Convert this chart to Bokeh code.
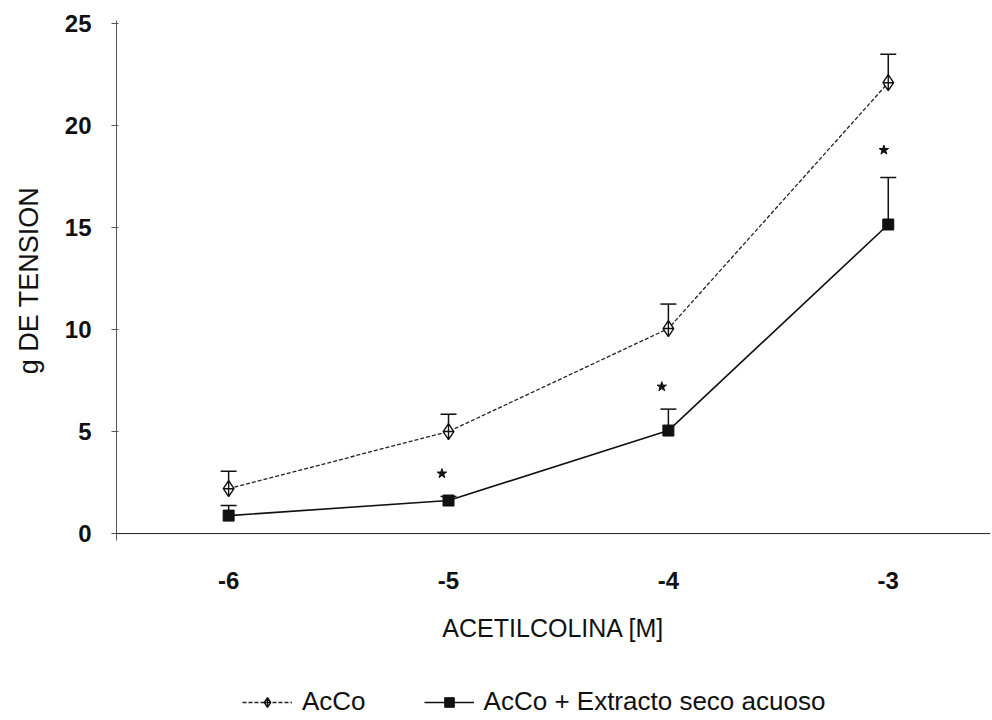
from bokeh.plotting import figure
from bokeh.models import (ColumnDataSource, Whisker, TeeHead, Span, Legend, LegendItem,
                          FixedTicker, Range1d)
from bokeh.layouts import column
from bokeh.embed import file_html
from bokeh.resources import INLINE

# data
log_conc = [-6, -5, -4, -3]
acco_mean = [2.2, 5.0, 10.05, 22.1]
acco_err = [0.85, 0.85, 1.2, 1.4]
ext_mean = [0.88, 1.62, 5.05, 15.15]
ext_err = [0.5, 0.2, 1.05, 2.3]
star_x = [-5.03, -4.03, -3.02]
star_y = [2.94, 7.2, 18.8]
x_ticks = [-6, -5, -4, -3]
x_tick_labels = ["-6", "-5", "-4", "-3"]
y_ticks = [0, 5, 10, 15, 20, 25]
series_names = ["AcCo", "AcCo + Extracto seco acuoso"]

FONT = "Liberation Sans"
MAIN_H = 665

p = figure(width=992, height=MAIN_H, output_backend="svg", toolbar_location=None,
           x_range=Range1d(-6.51, -2.535), y_range=Range1d(-0.34, 25.15),
           min_border_left=116, min_border_right=2, min_border_top=20,
           min_border_bottom=MAIN_H - 540)
p.outline_line_color = None
p.grid.visible = False

# axes
xa = p.xaxis[0]
xa.ticker = FixedTicker(ticks=x_ticks)
xa.major_label_overrides = {t: s for t, s in zip(x_ticks, x_tick_labels)}
xa.axis_line_color = None
xa.major_tick_line_color = None
xa.minor_tick_line_color = None
xa.major_tick_out = 0
xa.major_label_standoff = 31
xa.major_label_text_font = FONT
xa.major_label_text_font_size = "24px"
xa.major_label_text_font_style = "bold"
xa.major_label_text_color = "#111111"
xa.axis_label = "ACETILCOLINA [M]"
xa.axis_label_text_font = FONT
xa.axis_label_text_font_size = "25px"
xa.axis_label_text_font_style = "normal"
xa.axis_label_text_color = "#111111"
xa.axis_label_standoff = 22

ya = p.yaxis[0]
ya.ticker = FixedTicker(ticks=y_ticks)
ya.axis_line_color = "#555555"
ya.axis_line_width = 1
ya.major_tick_line_color = "#555555"
ya.major_tick_out = 5
ya.major_tick_in = 2
ya.minor_tick_line_color = None
ya.major_label_standoff = 20
ya.major_label_text_font = FONT
ya.major_label_text_font_size = "24px"
ya.major_label_text_font_style = "bold"
ya.major_label_text_color = "#111111"
ya.axis_label = "g DE TENSION"
ya.axis_label_text_font = FONT
ya.axis_label_text_font_size = "27px"
ya.axis_label_text_font_style = "normal"
ya.axis_label_text_color = "#111111"
ya.axis_label_standoff = 18

# zero line
p.add_layout(Span(location=0, dimension="width", line_color="#222222", line_width=1))

# error bars
src_a = ColumnDataSource(dict(x=log_conc, y=acco_mean,
                              up=[m + e for m, e in zip(acco_mean, acco_err)]))
src_e = ColumnDataSource(dict(x=log_conc, y=ext_mean,
                              up=[m + e for m, e in zip(ext_mean, ext_err)]))
for src in (src_a, src_e):
    w = Whisker(source=src, base="x", lower="y", upper="up",
                upper_head=TeeHead(size=16, line_color="#111111", line_width=1.5),
                lower_head=None, line_color="#111111", line_width=1.5)
    p.add_layout(w)

A_LINE = dict(line_color="#222222", line_width=1.3, line_dash="4 2")
A_MARK = dict(marker="diamond_cross", size=16, line_color="#111111", fill_color="white", line_width=1.4)
E_LINE = dict(line_color="#111111", line_width=1.6)
E_MARK = dict(marker="square", size=11, line_color="#111111", fill_color="#111111")

# series
p.line("x", "y", source=src_a, **A_LINE)
p.scatter("x", "y", source=src_a, **A_MARK)
p.line("x", "y", source=src_e, **E_LINE)
p.scatter("x", "y", source=src_e, **E_MARK)

# significance stars
p.scatter(star_x, star_y, marker="star", size=10, fill_color="#111111", line_color="#111111")

# legend strip below the chart (same series, drawn out of this strip's view)
lf = figure(width=992, height=720 - MAIN_H, output_backend="svg", toolbar_location=None,
            x_axis_type=None, y_axis_type=None, x_range=Range1d(100, 101), y_range=Range1d(100, 101),
            min_border=0)
lf.outline_line_color = None
lf.grid.visible = False
la = lf.line("x", "y", source=src_a, **A_LINE)
sa = lf.scatter("x", "y", source=src_a, **A_MARK)
le = lf.line("x", "y", source=src_e, **E_LINE)
se = lf.scatter("x", "y", source=src_e, **E_MARK)
legend = Legend(items=[LegendItem(label=series_names[0], renderers=[la, sa]),
                       LegendItem(label=series_names[1], renderers=[le, se])],
                orientation="horizontal", location=(126, 3),
                glyph_width=50, glyph_height=24, label_standoff=10, spacing=58,
                padding=0, margin=0, border_line_color=None, background_fill_alpha=0,
                label_text_font=FONT, label_text_font_size="26px", label_text_color="#111111")
lf.add_layout(legend, "center")

layout = column(p, lf, spacing=0)
open("out.html", "w").write(file_html(layout, INLINE))
